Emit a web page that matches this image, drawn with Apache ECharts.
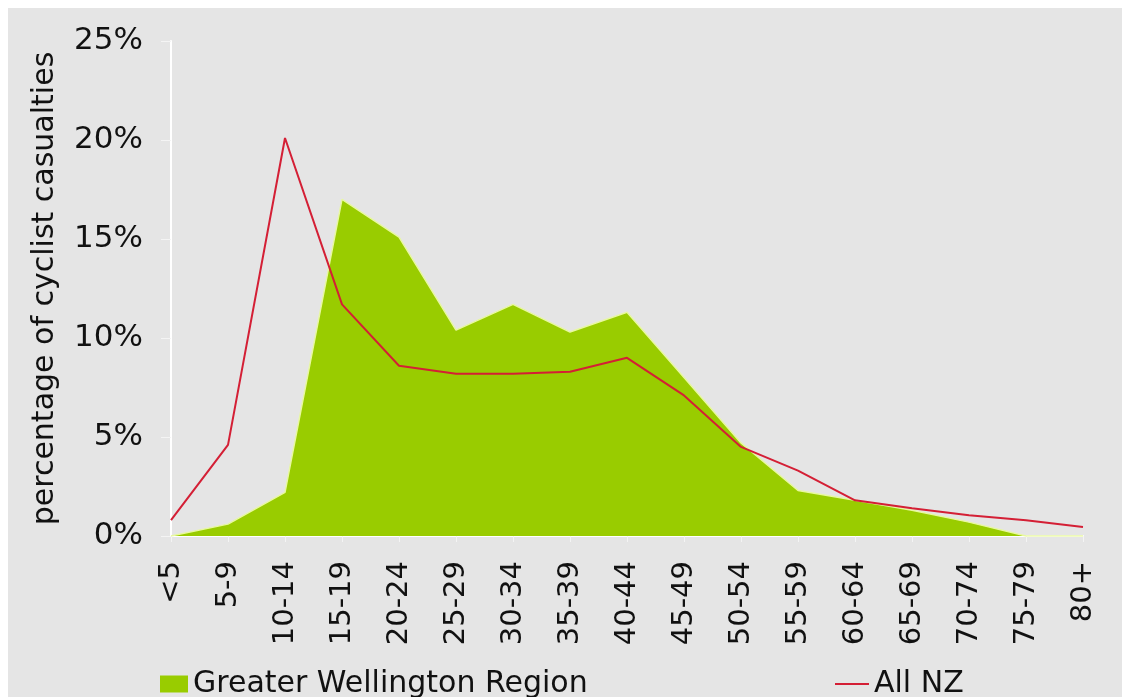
<!DOCTYPE html>
<html>
<head>
<meta charset="utf-8">
<script src="https://cdn.jsdelivr.net/npm/echarts@6/dist/echarts.min.js"></script>
<style>
  html, body { margin: 0; padding: 0; background: #ffffff; }
  #main { position: absolute; left: 8px; top: 8px; width: 1114px; height: 689px; }
</style>
</head>
<body>
<div id="main"></div>
<script>
const ageGroups = ['<5', '5-9', '10-14', '15-19', '20-24', '25-29', '30-34', '35-39', '40-44',
  '45-49', '50-54', '55-59', '60-64', '65-69', '70-74', '75-79', '80+']
const wellington = [0, 0.6, 2.2, 17.0, 15.1, 10.4, 11.7, 10.3, 11.3, 8.0, 4.7, 2.3, 1.8, 1.3, 0.7, 0, 0]
const allNZ = [0.8, 4.6, 20.1, 11.7, 8.6, 8.2, 8.2, 8.3, 9.0, 7.1, 4.5, 3.3, 1.8, 1.4, 1.05, 0.8, 0.45]

const font = 'DejaVu Sans'
const chart = echarts.init(document.getElementById('main'))

const option = {
  backgroundColor: '#e5e5e5',
  animation: false,
  textStyle: { fontFamily: font },
  grid: { left: 163, top: 33, width: 912, height: 495 },
  legend: [
    {
      data: ['Greater Wellington Region'],
      left: 147, top: 656,
      icon: 'rect', itemWidth: 28, itemHeight: 17, itemGap: 6,
      textStyle: { fontSize: 30, color: '#111', fontFamily: font }
    },
    {
      data: ['All NZ'],
      left: 822, top: 656,
      icon: 'rect', itemWidth: 34, itemHeight: 2,
      textStyle: { fontSize: 30, color: '#111', fontFamily: font }
    }
  ],
  xAxis: {
    type: 'category',
    data: ageGroups,
    boundaryGap: false,
    axisLine: { lineStyle: { color: '#ffffff', width: 2 } },
    axisTick: { show: true, length: 6, lineStyle: { color: '#f4f4f4' } },
    axisLabel: { rotate: 90, fontSize: 29, color: '#111', margin: 25, fontFamily: font },
    splitLine: { show: false }
  },
  yAxis: {
    type: 'value',
    min: 0, max: 25, interval: 5,
    name: 'percentage of cyclist casualties',
    nameLocation: 'middle',
    nameGap: 111,
    nameTextStyle: { fontSize: 30, color: '#111', fontFamily: font },
    axisLine: { show: true, lineStyle: { color: '#ffffff', width: 2 } },
    axisTick: { show: true, length: 10, lineStyle: { color: '#f4f4f4' } },
    axisLabel: { formatter: '{value}%', fontSize: 31, color: '#111', margin: 28, fontFamily: font },
    splitLine: { show: false }
  },
  series: [
    {
      name: 'Greater Wellington Region',
      type: 'line',
      data: wellington,
      symbol: 'none',
      itemStyle: { color: '#99cc00' },
      lineStyle: { color: '#e8f8a0', width: 1.5 },
      areaStyle: { color: '#99cc00', opacity: 1 },
      z: 2
    },
    {
      name: 'All NZ',
      type: 'line',
      data: allNZ,
      symbol: 'none',
      itemStyle: { color: '#d41f35' },
      lineStyle: { color: '#d41f35', width: 2 },
      z: 3
    }
  ]
}

chart.setOption(option)
</script>
</body>
</html>
